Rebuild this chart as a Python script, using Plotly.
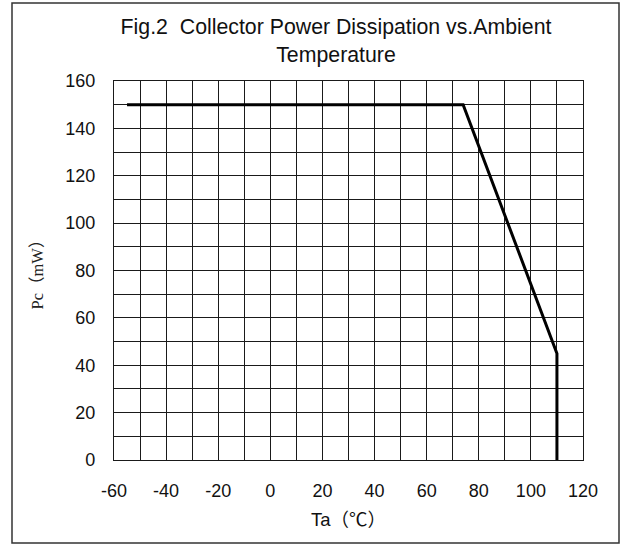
import plotly.graph_objects as go

# Data
ta = [-55, 74, 110, 110]
pc = [150, 150, 45, 0]

x_ticks = [-60, -40, -20, 0, 20, 40, 60, 80, 100, 120]
y_ticks = [0, 20, 40, 60, 80, 100, 120, 140, 160]

W, H = 622, 545
L, R, T, B = 114, 39, 81, 85
pw, ph = W - L - R, H - T - B

fig = go.Figure()
fig.add_trace(go.Scatter(x=ta, y=pc, mode="lines",
                         line=dict(color="#000000", width=3),
                         showlegend=False, hoverinfo="skip"))

grid_col = "#1a1a1a"
axis_common = dict(
    showgrid=True, gridcolor=grid_col, gridwidth=1.3,
    showline=True, linecolor=grid_col, linewidth=1.3, mirror=True,
    zeroline=False, ticks="",
    tickfont=dict(family="Liberation Sans, Arial", size=18, color="#111"),
    ticklabelstandoff=14,
)

fig.update_xaxes(range=[-60, 120], tickvals=x_ticks,
                 ticktext=[str(v) for v in x_ticks],
                 minor=dict(dtick=10, tick0=0, showgrid=True, gridcolor=grid_col, gridwidth=1.3),
                 title=dict(text="Ta（℃）", font=dict(family="Liberation Sans, Noto Sans CJK SC", size=18.5, color="#111"), standoff=13),
                 **axis_common)
fig.update_yaxes(range=[0, 160], tickvals=y_ticks,
                 ticktext=[str(v) for v in y_ticks],
                 minor=dict(dtick=10, tick0=0, showgrid=True, gridcolor=grid_col, gridwidth=1.3),
                 title=dict(text="Pc（mW）", font=dict(family="Liberation Serif, Noto Sans CJK SC", size=16.5, color="#222"), standoff=17),
                 **axis_common)

# outer frame
fig.add_shape(type="rect", xref="paper", yref="paper",
              x0=(12 - L) / pw, x1=(619 - L) / pw,
              y0=(H - B - 543) / ph, y1=(H - B - 3) / ph,
              line=dict(color="#333", width=1.5), fillcolor="rgba(0,0,0,0)", layer="below")

fig.update_layout(
    width=W, height=H,
    margin=dict(l=L, r=R, t=T, b=B),
    paper_bgcolor="white", plot_bgcolor="white",
    title=dict(text="Fig.2  Collector Power Dissipation vs.Ambient<br>Temperature",
               font=dict(family="Liberation Sans, Arial", size=21.3, color="#111"),
               x=336 / W, xanchor="center", y=1 - 34 / H, yanchor="top"),
)

fig.write_html("out.html", config={"displayModeBar": False},
               post_script="document.body.style.margin='0';")
